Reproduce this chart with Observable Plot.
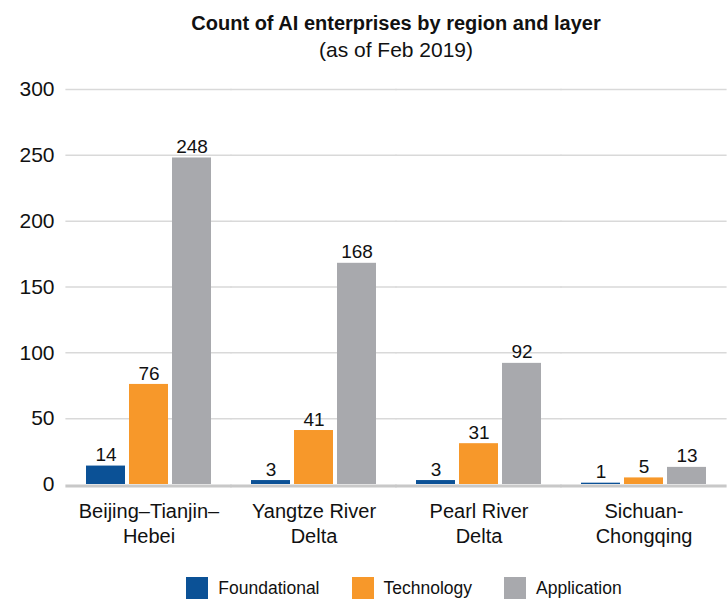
<!DOCTYPE html>
<html><head><meta charset="utf-8">
<script src="https://cdn.jsdelivr.net/npm/d3@7"></script>
<script src="https://cdn.jsdelivr.net/npm/@observablehq/plot@0.6"></script>
<style>
body{margin:0;background:#fff;font-family:"Liberation Sans",Arial,sans-serif;color:#111;}
#wrap{width:727px;}
.t1{margin:11px 0 0 65px;width:662px;text-align:center;font-weight:bold;font-size:20px;line-height:24px;}
.t2{margin:2px 0 0 65px;width:662px;text-align:center;font-size:21px;line-height:26px;}
#legend{margin:18px 0 0 73px;width:662px;display:flex;justify-content:center;align-items:center;font-size:17.5px;}
.item{display:flex;align-items:center;margin:0 16px;}
.sw{width:22px;height:22px;margin-right:10px;}
</style></head><body>
<div id="wrap">
<div class="t1">Count of AI enterprises by region and layer</div>
<div class="t2">(as of Feb 2019)</div>
<div id="chart"></div>
<div id="legend"></div>
</div>
<script>
const regions = ["Beijing–Tianjin–\nHebei", "Yangtze River\nDelta", "Pearl River\nDelta", "Sichuan-\nChongqing"];
const layers = ["Foundational", "Technology", "Application"];
const foundational = [14, 3, 3, 1];
const technology = [76, 41, 31, 5];
const application = [248, 168, 92, 13];
const colors = ["#0b5196", "#f7982a", "#a8a9ad"];
const yTicks = [0, 50, 100, 150, 200, 250, 300];

const series = [foundational, technology, application];
const data = regions.flatMap((r, i) => layers.map((l, j) => ({region: r, layer: l, value: series[j][i]})));

const chart = Plot.plot({
  width: 727, height: 496,
  marginTop: 26, marginBottom: 75, marginLeft: 65, marginRight: 0,
  style: {fontFamily: "Liberation Sans, Arial, sans-serif", fontSize: "20px", color: "#111", background: "#fff"},
  fx: {domain: regions, paddingInner: 0.23, paddingOuter: 0.115, label: null},
  x: {domain: layers, paddingInner: 0.09, paddingOuter: 0, axis: null},
  y: {domain: [0, 300], axis: null},
  color: {domain: layers, range: colors},
  marks: [
    Plot.ruleY(yTicks.filter(d => d > 0), {stroke: "#d9d9d9", strokeWidth: 1.5, insetLeft: -19.6, insetRight: -19.6}),
    Plot.ruleY([0], {stroke: "#c8c8c8", strokeWidth: 3, dy: 1.5, insetLeft: -19.6, insetRight: -19.6}),
    Plot.barY(data, {fx: "region", x: "layer", y: "value", fill: "layer"}),
    Plot.text(data, {fx: "region", x: "layer", y: "value", text: "value", dy: -11, fontSize: 19, fill: "#111"}),
    Plot.axisY(yTicks, {anchor: "left", tickSize: 0, tickPadding: 31, fontSize: 21, label: null}),
    Plot.axisFx({anchor: "bottom", tickSize: 0, tickPadding: 16, fontSize: 20, lineHeight: 1.25, label: null})
  ]
});
document.getElementById("chart").appendChild(chart);

const legend = document.getElementById("legend");
layers.forEach((l, i) => {
  const it = document.createElement("div");
  it.className = "item";
  const sw = document.createElement("div");
  sw.className = "sw";
  sw.style.background = colors[i];
  const tx = document.createElement("span");
  tx.textContent = l;
  it.appendChild(sw); it.appendChild(tx);
  legend.appendChild(it);
});
</script>
</body></html>
